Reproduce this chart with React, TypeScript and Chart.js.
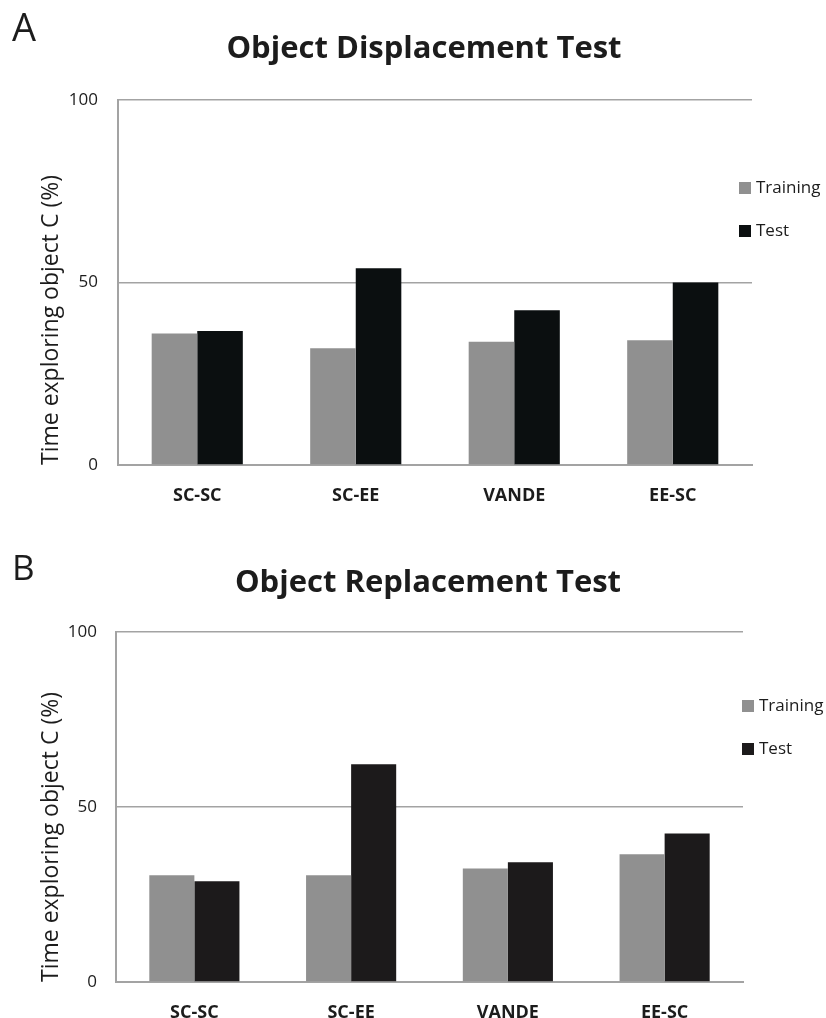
import React, { useEffect, useRef } from "react";
import { Chart, registerables } from "chart.js";

Chart.register(...registerables);

// ---------- data ----------
const categories = ["SC-SC", "SC-EE", "VANDE", "EE-SC"];
const seriesLabels = ["Training", "Test"];
const displacementTraining = [36.0, 32.0, 33.8, 34.2];
const displacementTest = [36.7, 53.9, 42.4, 50.0];
const replacementTraining = [30.5, 30.5, 32.4, 36.5];
const replacementTest = [28.8, 62.2, 34.2, 42.4];
const yTickValues = [0, 50, 100];
const yAxisTitle = "Time exploring object C (%)";

const FONT = "'Open Sans', 'DejaVu Sans', sans-serif";
const TEXT = "#1c1c1c";
const GRID = "#a3a3a3";

type PanelSpec = {
  top: number;
  height: number;
  letter: string;
  title: string;
  training: number[];
  test: number[];
  trainColor: string;
  testColor: string;
  padTop: number;
  padRight: number;
  yWidth: number;
  xHeight: number;
  xPad: number;
  yPad: number;
  letterX: number;
  letterY: number;
  letterSize: number;
  titleX: number;
  titleY: number;
  legendX: number;
  legendY: number[];
};

const decorPlugin = {
  id: "panelDecor",
  afterDraw(chart: any, _args: any, opts: any) {
    const ctx = chart.ctx as CanvasRenderingContext2D;
    ctx.save();
    ctx.fillStyle = TEXT;
    ctx.textBaseline = "alphabetic";
    // panel letter
    ctx.font = `400 ${opts.letterSize}px ${FONT}`;
    ctx.textAlign = "left";
    ctx.fillText(opts.letter, opts.letterX, opts.letterY);
    // title
    ctx.font = `700 31px ${FONT}`;
    ctx.textAlign = "center";
    ctx.fillText(opts.title, opts.titleX, opts.titleY);
    // legend
    ctx.textAlign = "left";
    ctx.textBaseline = "middle";
    ctx.font = `400 17px ${FONT}`;
    chart.data.datasets.forEach((ds: any, i: number) => {
      const y = opts.legendY[i];
      ctx.fillStyle = ds.backgroundColor;
      ctx.fillRect(opts.legendX, y, 12, 12);
      ctx.fillStyle = TEXT;
      ctx.fillText(ds.label, opts.legendX + 17, y + 6);
    });
    ctx.restore();
  },
};

function Panel({ spec }: { spec: PanelSpec }) {
  const ref = useRef<HTMLCanvasElement>(null);
  useEffect(() => {
    const chart = new Chart(ref.current!, {
      type: "bar",
      data: {
        labels: categories,
        datasets: [
          {
            label: seriesLabels[0],
            data: spec.training,
            backgroundColor: spec.trainColor,
            categoryPercentage: 0.575,
            barPercentage: 1,
          },
          {
            label: seriesLabels[1],
            data: spec.test,
            backgroundColor: spec.testColor,
            categoryPercentage: 0.575,
            barPercentage: 1,
          },
        ],
      },
      options: {
        responsive: false,
        animation: false,
        devicePixelRatio: 1,
        layout: {
          padding: { top: spec.padTop, right: spec.padRight, left: 0, bottom: 0 },
        },
        plugins: {
          legend: { display: false },
          title: { display: false },
          tooltip: { enabled: false },
          panelDecor: {
            letter: spec.letter,
            title: spec.title,
            letterX: spec.letterX,
            letterY: spec.letterY,
            letterSize: spec.letterSize,
            titleX: spec.titleX,
            titleY: spec.titleY,
            legendX: spec.legendX,
            legendY: spec.legendY,
          },
        } as any,
        scales: {
          x: {
            grid: { display: false },
            border: { display: true, color: GRID, width: 2 },
            ticks: {
              color: TEXT,
              padding: spec.xPad,
              font: { family: FONT, size: 18, weight: "bold" },
              maxRotation: 0,
            },
            afterFit: (scale: any) => {
              scale.height = spec.xHeight;
            },
          },
          y: {
            min: 0,
            max: 100,
            grid: { color: GRID, lineWidth: 1.5, drawTicks: false },
            border: { display: true, color: GRID, width: 2 },
            afterBuildTicks: (scale: any) => {
              scale.ticks = yTickValues.map((v) => ({ value: v }));
            },
            ticks: {
              color: TEXT,
              padding: spec.yPad,
              font: { family: FONT, size: 17 },
            },
            title: {
              display: true,
              text: yAxisTitle,
              align: "start",
              color: TEXT,
              font: { family: FONT, size: 23 },
              padding: { top: 38, bottom: 0 },
            },
            afterFit: (scale: any) => {
              scale.width = spec.yWidth;
            },
          },
        },
      } as any,
      plugins: [decorPlugin],
    });
    return () => chart.destroy();
  }, []);
  return (
    <canvas
      ref={ref}
      width={826}
      height={spec.height}
      style={{ position: "absolute", left: 0, top: spec.top, width: 826, height: spec.height, display: "block" }}
    />
  );
}

const panelA: PanelSpec = {
  top: 0,
  height: 510,
  letter: "A",
  title: "Object Displacement Test",
  training: displacementTraining,
  test: displacementTest,
  trainColor: "#909090",
  testColor: "#0b0f10",
  padTop: 100,
  padRight: 74,
  yWidth: 118,
  xHeight: 45,
  xPad: 12,
  yPad: 20,
  letterX: 12,
  letterY: 41,
  letterSize: 38,
  titleX: 424,
  titleY: 58,
  legendX: 739,
  legendY: [182, 225],
};

const panelB: PanelSpec = {
  top: 510,
  height: 508,
  letter: "B",
  title: "Object Replacement Test",
  training: replacementTraining,
  test: replacementTest,
  trainColor: "#909090",
  testColor: "#1c1a1b",
  padTop: 122,
  padRight: 83,
  yWidth: 116,
  xHeight: 36,
  xPad: 12,
  yPad: 19,
  letterX: 12,
  letterY: 70,
  letterSize: 35,
  titleX: 428,
  titleY: 82,
  legendX: 742,
  legendY: [190, 233],
};

export default function App() {
  return (
    <div style={{ position: "absolute", left: 0, top: 0, width: 826, height: 1018, background: "#fff" }}>
      <Panel spec={panelA} />
      <Panel spec={panelB} />
    </div>
  );
}
